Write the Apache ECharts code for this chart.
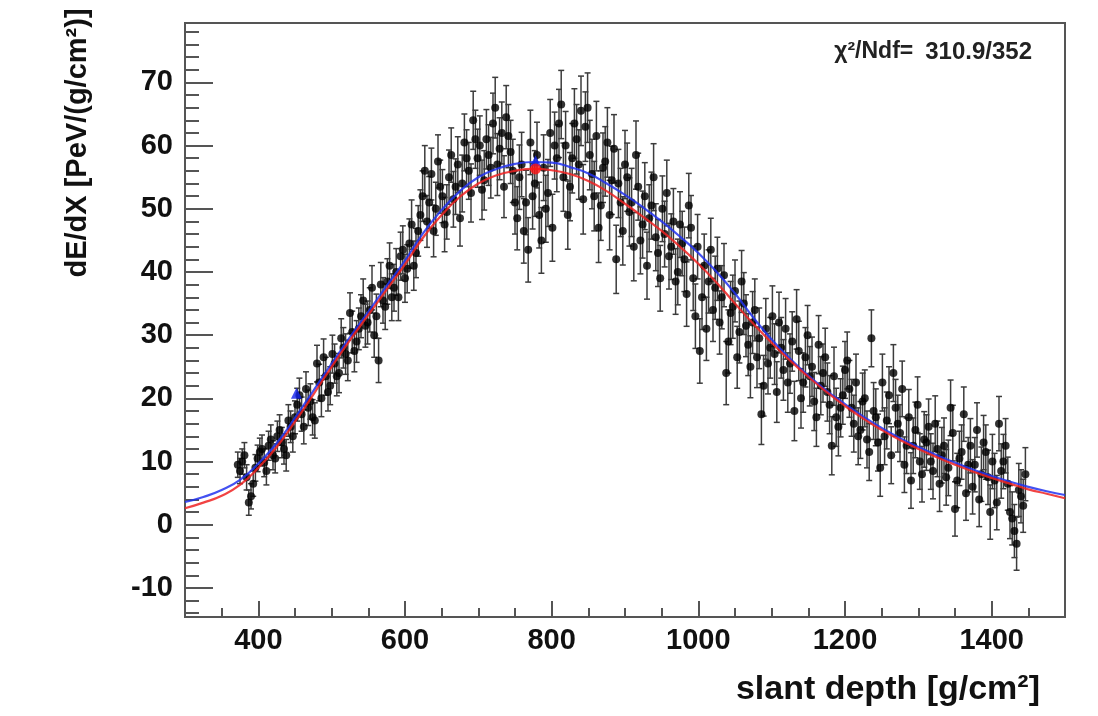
<!DOCTYPE html>
<html>
<head>
<meta charset="utf-8">
<script src="https://cdn.jsdelivr.net/npm/echarts@6/dist/echarts.min.js"></script>
<style>
html,body{margin:0;padding:0;background:#fff;}
#chart{width:1098px;height:716px;}
</style>
</head>
<body>
<div id="chart"></div>
<script>
// ---- data ----
const depth = [372,378,384,390,396,402,408,414,420,426,432,438,444,450,456,462,468,474,480,486,492,498,504,510,516,522,528,534,540,546,552,558,564,570,576,582,588,594,600,606,612,618,624,630,636,642,648,654,660,666,672,678,684,690,696,702,708,714,720,726,732,738,744,750,756,762,768,774,780,786,792,798,804,810,816,822,828,834,840,846,852,858,864,870,876,882,888,894,900,906,912,918,924,930,936,942,948,954,960,966,972,978,984,990,996,1002,1008,1014,1020,1026,1032,1038,1044,1050,1056,1062,1068,1074,1080,1086,1092,1098,1104,1110,1116,1122,1128,1134,1140,1146,1152,1158,1164,1170,1176,1182,1188,1194,1200,1206,1212,1218,1224,1230,1236,1242,1248,1254,1260,1266,1272,1278,1284,1290,1296,1302,1308,1314,1320,1326,1332,1338,1344,1350,1356,1362,1368,1374,1380,1386,1392,1398,1404,1410,1416,1422,1428,1434,1440,1446];
const dEdX = [9.5,10.0,7.5,4.5,9.0,11.5,9.8,12.5,11.0,14.0,13.0,11.0,15.5,17.0,20.5,15.5,18.5,17.0,25.5,20.0,23.5,22.0,25.5,24.0,28.0,26.0,30.5,29.0,33.0,31.5,34.0,30.0,26.0,35.5,38.5,36.0,40.0,42.5,39.0,44.5,41.0,46.5,52.0,48.0,55.5,50.0,53.5,47.5,55.0,51.5,57.0,54.0,58.0,52.5,61.0,60.0,54.5,58.5,63.5,57.0,62.0,64.5,59.0,51.0,55.0,46.5,43.5,52.0,58.5,45.0,50.0,62.0,60.0,63.5,55.0,49.0,58.0,61.0,65.5,63.0,58.5,52.0,47.0,56.5,60.5,54.5,42.0,51.0,57.0,49.5,44.0,53.5,47.5,41.0,50.5,45.5,39.0,46.0,42.5,48.0,40.0,44.5,36.5,47.0,33.0,27.5,41.0,38.5,34.0,40.5,36.0,24.0,33.5,37.0,30.5,35.0,28.5,32.0,26.5,17.5,31.0,28.0,27.0,32.0,24.5,22.5,29.0,32.5,20.0,26.5,23.5,19.5,28.5,24.0,21.0,12.5,17.0,18.5,24.5,21.5,16.0,14.0,19.5,13.5,29.5,17.0,9.0,14.0,20.5,24.0,16.0,21.5,12.5,7.0,15.0,10.0,13.5,15.5,8.5,12.0,11.0,7.5,18.5,2.5,10.5,17.5,9.5,6.0,15.0,8.0,11.5,2.0,7.0,16.0,10.0,6.5,1.0,-3.0,4.5,8.0];
const dEdXErr = [2.0,2.0,2.0,2.0,2.1,2.2,2.2,2.3,2.3,2.4,2.4,2.5,2.5,2.6,2.7,2.7,2.8,2.8,2.9,2.9,3.0,3.0,3.1,3.1,3.2,3.2,3.3,3.3,3.4,3.4,3.5,3.5,3.5,3.6,3.6,3.7,3.7,3.8,3.8,3.9,3.9,4.0,4.0,4.1,4.1,4.2,4.2,4.3,4.3,4.4,4.4,4.5,4.5,4.6,4.6,4.7,4.7,4.8,4.8,4.9,4.9,5.0,5.0,5.0,5.1,5.1,5.1,5.2,5.2,5.2,5.3,5.3,5.3,5.4,5.4,5.4,5.5,5.5,5.5,5.5,5.5,5.5,5.5,5.5,5.5,5.4,5.4,5.4,5.4,5.4,5.4,5.3,5.3,5.3,5.3,5.3,5.2,5.2,5.2,5.2,5.2,5.1,5.1,5.1,5.1,5.1,5.0,5.0,5.0,5.0,5.0,5.0,5.0,4.9,4.9,4.9,4.9,4.9,4.8,4.8,4.8,4.8,4.8,4.8,4.8,4.7,4.7,4.7,4.7,4.7,4.7,4.6,4.6,4.6,4.6,4.6,4.6,4.6,4.5,4.5,4.5,4.5,4.5,4.5,4.5,4.5,4.5,4.5,4.5,4.5,4.5,4.4,4.4,4.4,4.4,4.4,4.4,4.4,4.4,4.4,4.4,4.4,4.4,4.3,4.3,4.3,4.3,4.3,4.3,4.3,4.3,4.3,4.3,4.3,4.3,4.2,4.2,4.2,4.2,4.2];

// interleaved second half of the bins (every other slant-depth bin)
const depthB = [375,381,387,393,399,405,411,417,423,429,435,441,447,453,459,465,471,477,483,489,495,501,507,513,519,525,531,537,543,549,555,561,567,573,579,585,591,597,603,609,615,621,627,633,639,645,651,657,663,669,675,681,687,693,699,705,711,717,723,729,735,741,747,753,759,765,771,777,783,789,795,801,807,813,819,825,831,837,843,849,855,861,867,873,879,885,891,897,903,909,915,921,927,933,939,945,951,957,963,969,975,981,987,993,999,1005,1011,1017,1023,1029,1035,1041,1047,1053,1059,1065,1071,1077,1083,1089,1095,1101,1107,1113,1119,1125,1131,1137,1143,1149,1155,1161,1167,1173,1179,1185,1191,1197,1203,1209,1215,1221,1227,1233,1239,1245,1251,1257,1263,1269,1275,1281,1287,1293,1299,1305,1311,1317,1323,1329,1335,1341,1347,1353,1359,1365,1371,1377,1383,1389,1395,1401,1407,1413,1419,1425,1431,1437,1443];
const dEdXB = [8.5,11.0,3.5,6.5,10.5,12.0,8.5,13.5,10.5,15.0,12.0,16.5,14.0,19.0,17.5,21.5,19.5,16.5,22.5,26.5,21.0,27.0,23.5,29.5,27.0,33.5,27.5,31.0,35.5,32.0,37.5,33.0,38.0,34.5,41.0,37.5,36.0,43.5,40.5,47.5,43.0,49.0,56.0,51.0,46.5,57.5,52.0,49.5,58.5,53.5,48.5,60.5,56.0,64.0,58.0,53.0,61.0,56.5,66.0,59.5,53.5,61.5,56.0,48.5,57.0,51.0,60.5,54.0,49.0,56.5,52.5,47.0,58.0,66.5,60.0,53.5,63.5,57.0,51.5,66.0,55.5,61.5,50.5,57.5,49.0,59.5,54.0,46.5,55.0,51.0,58.5,45.0,52.0,48.5,55.0,43.0,50.0,52.5,44.0,38.5,47.5,42.0,50.5,39.0,44.0,36.0,31.0,43.5,37.5,32.0,39.5,29.0,34.5,26.5,38.5,31.5,25.0,34.0,29.5,22.0,25.5,33.0,21.0,28.0,31.0,25.5,18.0,27.5,22.5,30.0,25.0,17.0,22.0,26.5,19.0,23.5,15.5,20.5,26.0,18.5,22.5,15.0,20.0,11.5,18.0,13.0,22.5,16.5,11.0,18.5,14.5,9.5,17.0,12.5,19.0,8.0,13.0,10.0,16.0,6.5,12.5,9.0,14.5,7.0,11.5,5.0,12.5,9.5,4.0,13.0,7.5,10.0,3.5,8.5,12.5,2.0,-1.0,5.5,3.0];

const fitDepth = [300,325,350,375,400,425,450,475,500,525,550,575,600,625,650,675,700,725,750,775,800,825,850,875,900,925,950,975,1000,1025,1050,1075,1100,1125,1150,1175,1200,1225,1250,1275,1300,1325,1350,1375,1400,1425,1450,1475,1500];
const fitRed = [2.6,3.5,4.6,6.3,9.0,12.3,16.3,20.6,25.0,29.2,33.2,37.2,41.2,45.5,49.0,51.9,54.0,55.3,56.0,56.3,56.1,55.5,54.4,52.8,50.8,48.7,46.5,44.0,41.3,38.3,35.0,31.8,28.8,26.0,23.4,21.0,18.8,16.8,15.0,13.4,12.0,10.7,9.5,8.4,7.4,6.5,5.6,4.9,4.2];
const fitBlue = [3.6,4.4,5.5,7.1,9.7,12.9,16.9,21.2,25.5,29.7,33.7,37.8,41.8,46.2,49.8,52.8,55.0,56.3,57.1,57.4,57.3,56.6,55.6,54.0,52.2,50.2,48.0,45.6,43.0,40.0,36.6,32.8,29.3,26.3,23.6,21.2,19.1,17.1,15.3,13.7,12.3,11.0,9.8,8.7,7.7,6.8,6.0,5.3,4.7];

const redMarkers = [[778, 56.3]];
const blueMarkers = [[778, 57.6], [452, 20.8]];

const xMajor = [400,600,800,1000,1200,1400];
const xMinor = [300,350,450,500,550,650,700,750,850,900,950,1050,1100,1150,1250,1300,1350,1450,1500];
const yMajor = [-10,0,10,20,30,40,50,60,70];
const yMinor = [-14,-12,-8,-6,-4,-2,2,4,6,8,12,14,16,18,22,24,26,28,32,34,36,38,42,44,46,48,52,54,56,58,62,64,66,68,72,74,76,78];

const xTitle = 'slant depth [g/cm²]';
const yTitle = 'dE/dX [PeV/(g/cm²)]';
const chiLabel = 'χ²/Ndf=';
const chiValue = '310.9/352';

// ---- chart ----
const FONT = '"Liberation Sans", Arial, Helvetica, sans-serif';
const chart = echarts.init(document.getElementById('chart'), null, {renderer: 'canvas'});
const ptsA = depth.map((d, i) => [d, dEdX[i], dEdXErr[i]]);
const ptsB = depthB.map((d, i) => [d, dEdXB[i], dEdXErr[i]]);
const pts = ptsA.concat(ptsB);
const frameColor = '#555';

function xAxisDef(ticks, len, labels) {
  return {
    type: 'value', min: 300, max: 1500, position: 'bottom',
    axisLine: {show: labels, onZero: false, lineStyle: {color: frameColor, width: 2}},
    axisTick: {show: true, inside: true, length: len, customValues: ticks, lineStyle: {color: frameColor, width: 2}},
    axisLabel: labels ? {show: true, customValues: xMajor, formatter: v => String(v), fontFamily: FONT, fontWeight: 'bold', fontSize: 29, color: '#111', margin: 9} : {show: false},
    splitLine: {show: false}
  };
}
function yAxisDef(ticks, len, labels) {
  return {
    type: 'value', min: -14.6, max: 79.4, position: 'left',
    axisLine: {show: labels, onZero: false, lineStyle: {color: frameColor, width: 2}},
    axisTick: {show: true, inside: true, length: len, customValues: ticks, lineStyle: {color: frameColor, width: 2}},
    axisLabel: labels ? {show: true, customValues: yMajor, formatter: v => String(v), fontFamily: FONT, fontWeight: 'bold', fontSize: 29, color: '#111', margin: 12} : {show: false},
    splitLine: {show: false}
  };
}

chart.setOption({
  animation: false,
  backgroundColor: '#fff',
  grid: {left: 185, right: 33, top: 23, bottom: 99, show: true, borderColor: frameColor, borderWidth: 2, backgroundColor: '#fff'},
  xAxis: [xAxisDef(xMajor, 16, true), xAxisDef(xMinor, 9, false)],
  yAxis: [yAxisDef(yMajor, 28, true), yAxisDef(yMinor, 14, false)],
  series: [
    {
      type: 'custom', name: 'errors', xAxisIndex: 0, yAxisIndex: 0,
      data: pts, encode: {x: 0, y: 1},
      renderItem: function (params, api) {
        const x = api.value(0), y = api.value(1), e = api.value(2);
        const t = api.coord([x, y + e]);
        const b = api.coord([x, y - e]);
        const st = {stroke: '#3c3c3c', lineWidth: 1.5};
        return {type: 'group', children: [
          {type: 'line', shape: {x1: t[0], y1: t[1], x2: b[0], y2: b[1]}, style: st},
          {type: 'line', shape: {x1: t[0] - 3, y1: t[1], x2: t[0] + 3, y2: t[1]}, style: st},
          {type: 'line', shape: {x1: b[0] - 3, y1: b[1], x2: b[0] + 3, y2: b[1]}, style: st}
        ]};
      },
      z: 2
    },
    {
      type: 'scatter', name: 'data', data: pts.map(p => [p[0], p[1]]),
      symbol: 'circle', symbolSize: 8, itemStyle: {color: '#000'}, z: 3
    },
    {
      type: 'line', name: 'fit blue', data: fitDepth.map((d, i) => [d, fitBlue[i]]),
      smooth: true, showSymbol: false, lineStyle: {color: '#2233ee', width: 2.2, opacity: 0.85}, z: 4
    },
    {
      type: 'line', name: 'fit red', data: fitDepth.map((d, i) => [d, fitRed[i]]),
      smooth: true, showSymbol: false, lineStyle: {color: '#ee2222', width: 2.2, opacity: 0.85}, z: 5
    },
    {
      type: 'scatter', name: 'blue marker', data: blueMarkers, symbol: 'triangle', symbolSize: 11,
      itemStyle: {color: '#1122ee'}, z: 6
    },
    {
      type: 'scatter', name: 'red marker', data: redMarkers, symbol: 'circle', symbolSize: 11,
      itemStyle: {color: '#ff1111'}, z: 7
    }
  ],
  graphic: [
    {type: 'text', x: 78, y: 143, rotation: Math.PI / 2,
     style: {text: yTitle, font: 'bold 29px ' + FONT, fill: '#111', align: 'center', verticalAlign: 'middle'}},
    {type: 'text', x: 1040, y: 690,
     style: {text: xTitle, font: 'bold 34px ' + FONT, fill: '#111', align: 'right', verticalAlign: 'middle'}},
    {type: 'text', x: 1032, y: 52,
     style: {text: '{a|' + chiLabel + '}{b|' + chiValue + '}', align: 'right', verticalAlign: 'middle',
       rich: {a: {font: 'bold 23px ' + FONT, fill: '#222'}, b: {font: 'bold 24px ' + FONT, fill: '#222', padding: [0, 0, 0, 12]}}}}
  ]
});
</script>
</body>
</html>
